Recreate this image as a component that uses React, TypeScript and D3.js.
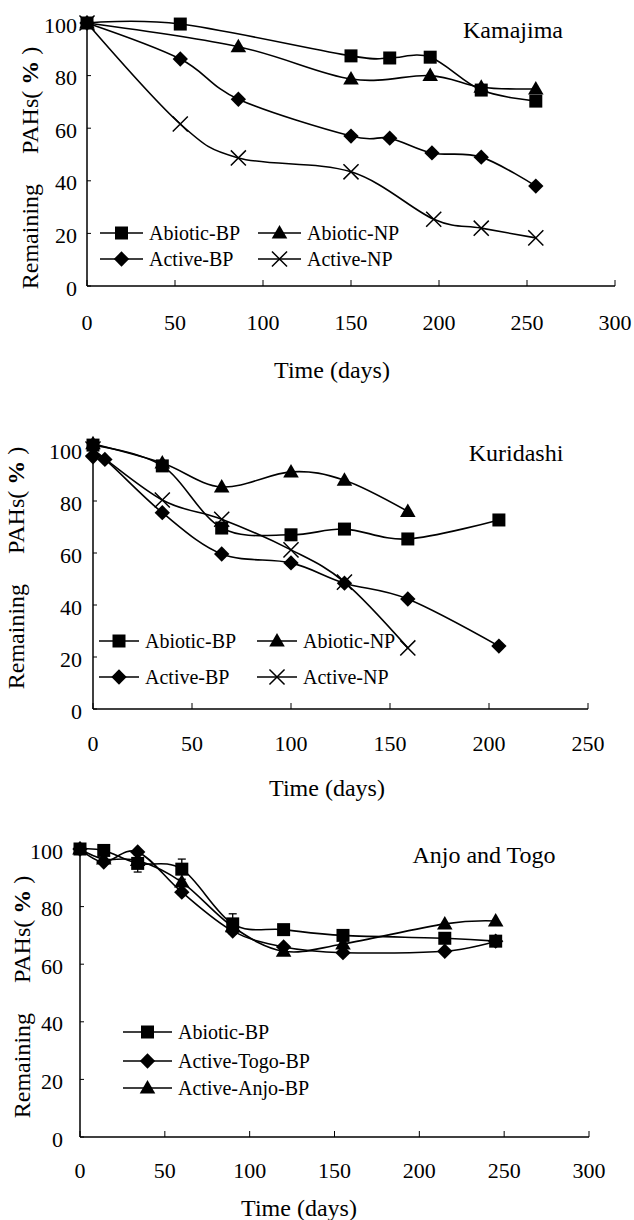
import React from 'react'
import * as d3 from 'd3'

// ---- Kamajima ----
const kamAbioticBPDays = [0, 53, 150, 172, 195, 224, 255]
const kamAbioticBP = [100, 99.6, 87.5, 86.7, 87, 74.5, 70.3]
const kamAbioticNPDays = [0, 86, 150, 195, 224, 255]
const kamAbioticNP = [100, 91, 78.7, 80, 75.6, 74.9]
const kamActiveBPDays = [0, 53, 86, 150, 172, 196, 224, 255]
const kamActiveBP = [100, 86.3, 71, 57, 56.2, 50.6, 49, 38]
const kamActiveNPDays = [0, 53, 86, 150, 197, 224, 255]
const kamActiveNP = [100, 61.6, 48.7, 43.4, 25.4, 22, 18.3]

// ---- Kuridashi ----
const kurAbioticBPDays = [0, 35, 65, 100, 127, 159, 205]
const kurAbioticBP = [101.5, 93.5, 69.6, 67, 69.2, 65.4, 72.7]
const kurAbioticNPDays = [0, 35, 65, 100, 127, 159]
const kurAbioticNP = [102, 94.6, 85.4, 91.2, 88, 76]
const kurActiveBPDays = [0, 6, 35, 65, 100, 127, 159, 205]
const kurActiveBP = [97, 96, 75.5, 59.6, 56.2, 48.4, 42.3, 24.2]
const kurActiveNPDays = [0, 35, 65, 100, 127, 159]
const kurActiveNP = [100, 80.4, 73, 61.2, 48.8, 23.5]

// ---- Anjo and Togo ----
const anjoDays = [0, 14, 34, 60, 90, 120, 155, 215, 245]
const anjoAbioticBP = [100, 99.5, 95, 93, 74, 72, 70, 69, 68]
const anjoAbioticErr = [0, 0, 3, 3.5, 3.5, 0, 0, 0, 0]
const anjoTogoBP = [100, 95.5, 99, 85, 71.5, 66, 64, 64.5, 68]
const anjoAnjoBP = [100, 96.5, 96, 88.5, 73, 64.5, 67, 74, 75]

const yTicks = [0, 20, 40, 60, 80, 100]
const font = "'Liberation Serif', 'Times New Roman', serif"

type Mark = 'square' | 'triangle' | 'diamond' | 'x'
type Series = { name: string; mark: Mark; days: number[]; values: number[]; err?: number[] }

const symbolPath = (m: Mark) => {
  if (m === 'square') return d3.symbol(d3.symbolSquare, 169)()
  if (m === 'triangle') return d3.symbol(d3.symbolTriangle, 105)()
  if (m === 'diamond') return d3.symbol(d3.symbolDiamond2, 150)()
  return d3.symbol(d3.symbolTimes, 150)()
}

function Marker({ m, x, y }: { m: Mark; x: number; y: number }) {
  const dy = m === 'triangle' ? 1 : 0
  return m === 'x'
    ? <path d={symbolPath(m) || ''} transform={`translate(${x},${y})`} fill="none" stroke="#000" strokeWidth={1.5} />
    : <path d={symbolPath(m) || ''} transform={`translate(${x},${y + dy})`} fill="#000" />
}

type PanelProps = {
  title: string; titleX: number; titleY: number
  xr: [number, number]; yr: [number, number]; xmax: number
  yLabelX: number; xLabelY: number; timeX: number; timeY: number; yTitleX: number; yTitleY: number
  series: Series[]
  legend: { x: number; y: number; s: Series }[]
  legendLine: number
}

const nb = '\u00a0'

function Panel(p: PanelProps) {
  const x = d3.scaleLinear().domain([0, p.xmax]).range(p.xr)
  const y = d3.scaleLinear().domain([0, 100]).range(p.yr)
  const line = d3.line<[number, number]>()
    .x(d => x(d[0])).y(d => y(d[1]))
    .curve(d3.curveCatmullRom.alpha(0))
  const xTicks = d3.range(0, p.xmax + 1, 50)
  return (
    <g>
      {/* axes */}
      <line x1={p.xr[0]} x2={p.xr[0]} y1={p.yr[0]} y2={p.yr[1]} stroke="#000" strokeWidth={1.5} />
      <line x1={p.xr[0]} x2={p.xr[1]} y1={p.yr[0]} y2={p.yr[0]} stroke="#000" strokeWidth={1.5} />
      {yTicks.map(t => (
        <g key={'y' + t}>
          <line x1={p.xr[0]} x2={p.xr[0] + 4} y1={y(t)} y2={y(t)} stroke="#000" strokeWidth={1} />
          <text x={p.yLabelX} y={y(t) + 2} textAnchor="end" dominantBaseline="central" fontSize={22} fontFamily={font}>{t}</text>
        </g>
      ))}
      {xTicks.map(t => (
        <g key={'x' + t}>
          <line x1={x(t)} x2={x(t)} y1={p.yr[0]} y2={p.yr[0] - 6} stroke="#000" strokeWidth={1} />
          <text x={x(t)} y={p.xLabelY} textAnchor="middle" dominantBaseline="central" fontSize={22} fontFamily={font}>{t}</text>
        </g>
      ))}
      <text x={p.timeX} y={p.timeY} textAnchor="middle" dominantBaseline="central" fontSize={24} fontFamily={font}>Time (days)</text>
      <text transform={`translate(${p.yTitleX},${p.yTitleY}) rotate(-90)`} textAnchor="middle" dominantBaseline="central" fontSize={24} fontFamily={font}>
        {`Remaining${nb}${nb}${nb}${nb}${nb}PAHs(${nb}`}<tspan fontWeight="bold">%</tspan>{`${nb})`}
      </text>
      <text x={p.titleX} y={p.titleY} textAnchor="middle" fontSize={24} fontFamily={font}>{p.title}</text>
      {/* lines */}
      {p.series.map(s => (
        <path key={'l' + s.name} d={line(s.days.map((d, i) => [d, s.values[i]] as [number, number])) || ''} fill="none" stroke="#000" strokeWidth={1.6} />
      ))}
      {/* error bars */}
      {p.series.map(s => s.err ? s.days.map((d, i) => s.err![i] > 0 ? (
        <g key={'e' + s.name + i} stroke="#000" strokeWidth={1.3}>
          <line x1={x(d)} x2={x(d)} y1={y(s.values[i] - s.err![i])} y2={y(s.values[i] + s.err![i])} />
          <line x1={x(d) - 4} x2={x(d) + 4} y1={y(s.values[i] - s.err![i])} y2={y(s.values[i] - s.err![i])} />
          <line x1={x(d) - 4} x2={x(d) + 4} y1={y(s.values[i] + s.err![i])} y2={y(s.values[i] + s.err![i])} />
        </g>
      ) : null) : null)}
      {/* markers */}
      {p.series.map(s => s.days.map((d, i) => (
        <Marker key={'m' + s.name + i} m={s.mark} x={x(d)} y={y(s.values[i])} />
      )))}
      {/* legend */}
      {p.legend.map(l => (
        <g key={'lg' + l.s.name}>
          <line x1={l.x} x2={l.x + p.legendLine} y1={l.y} y2={l.y} stroke="#000" strokeWidth={1.6} />
          <Marker m={l.s.mark} x={l.x + p.legendLine / 2} y={l.y} />
          <text x={l.x + p.legendLine + 6} y={l.y} dominantBaseline="central" fontSize={20} fontFamily={font}>{l.s.name}</text>
        </g>
      ))}
    </g>
  )
}

export default function App() {
  const kam: Series[] = [
    { name: 'Abiotic-BP', mark: 'square', days: kamAbioticBPDays, values: kamAbioticBP },
    { name: 'Abiotic-NP', mark: 'triangle', days: kamAbioticNPDays, values: kamAbioticNP },
    { name: 'Active-BP', mark: 'diamond', days: kamActiveBPDays, values: kamActiveBP },
    { name: 'Active-NP', mark: 'x', days: kamActiveNPDays, values: kamActiveNP },
  ]
  const kur: Series[] = [
    { name: 'Abiotic-BP', mark: 'square', days: kurAbioticBPDays, values: kurAbioticBP },
    { name: 'Abiotic-NP', mark: 'triangle', days: kurAbioticNPDays, values: kurAbioticNP },
    { name: 'Active-BP', mark: 'diamond', days: kurActiveBPDays, values: kurActiveBP },
    { name: 'Active-NP', mark: 'x', days: kurActiveNPDays, values: kurActiveNP },
  ]
  const anjo: Series[] = [
    { name: 'Abiotic-BP', mark: 'square', days: anjoDays, values: anjoAbioticBP, err: anjoAbioticErr },
    { name: 'Active-Togo-BP', mark: 'diamond', days: anjoDays, values: anjoTogoBP },
    { name: 'Active-Anjo-BP', mark: 'triangle', days: anjoDays, values: anjoAnjoBP },
  ]
  return (
    <svg width={634} height={1220} style={{ position: 'absolute', left: 0, top: 0, background: '#fff' }}>
      <Panel title="Kamajima" titleX={513} titleY={38} xr={[87, 615]} yr={[286, 23]} xmax={300}
        yLabelX={77} xLabelY={322} timeX={332} timeY={370} yTitleX={30} yTitleY={168}
        series={kam} legendLine={43}
        legend={[{ x: 100, y: 233, s: kam[0] }, { x: 258, y: 233, s: kam[1] }, { x: 100, y: 259, s: kam[2] }, { x: 258, y: 259, s: kam[3] }]} />
      <Panel title="Kuridashi" titleX={516} titleY={461} xr={[93, 588]} yr={[709, 449]} xmax={250}
        yLabelX={82} xLabelY={743} timeX={327} timeY={788} yTitleX={16} yTitleY={568}
        series={kur} legendLine={40}
        legend={[{ x: 99, y: 641, s: kur[0] }, { x: 257, y: 641, s: kur[1] }, { x: 99, y: 677, s: kur[2] }, { x: 257, y: 677, s: kur[3] }]} />
      <Panel title="Anjo and Togo" titleX={484} titleY={863} xr={[80, 589]} yr={[1137, 849]} xmax={300}
        yLabelX={63} xLabelY={1170} timeX={299} timeY={1208} yTitleX={22} yTitleY={997}
        series={anjo} legendLine={49}
        legend={[{ x: 123, y: 1032, s: anjo[0] }, { x: 123, y: 1061, s: anjo[1] }, { x: 123, y: 1088, s: anjo[2] }]} />
    </svg>
  )
}
